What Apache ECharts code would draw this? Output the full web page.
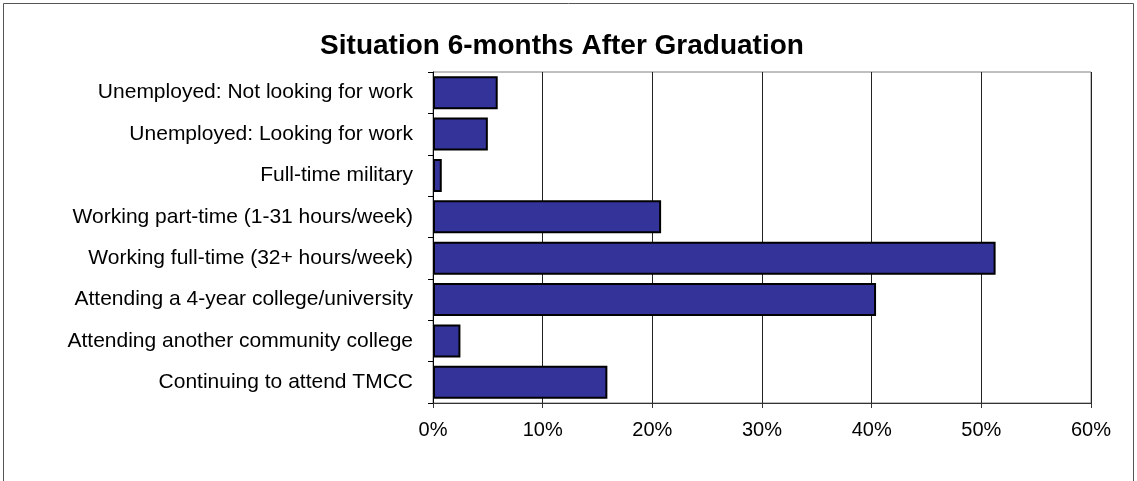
<!DOCTYPE html>
<html>
<head>
<meta charset="utf-8">
<script src="https://cdn.jsdelivr.net/npm/echarts@6/dist/echarts.min.js"></script>
<style>
  html, body { margin: 0; padding: 0; background: #fff; }
  #chart { width: 1137px; height: 481px; }
</style>
</head>
<body>
<div id="chart"></div>
<script>
// categories listed bottom -> top (category axis starts at bottom)
const categories = [
  'Continuing to attend TMCC',
  'Attending another community college',
  'Attending a 4-year college/university',
  'Working full-time (32+ hours/week)',
  'Working part-time (1-31 hours/week)',
  'Full-time military',
  'Unemployed: Looking for work',
  'Unemployed: Not looking for work'
];
const percents = [15.9, 2.5, 40.4, 51.3, 20.8, 0.8, 5.0, 5.9];
const xTicks = [0, 10, 20, 30, 40, 50, 60];

const chart = echarts.init(document.getElementById('chart'));
chart.setOption({
  animation: false,
  textStyle: { fontFamily: 'Liberation Sans, Arial, sans-serif' },
  title: {
    text: 'Situation 6-months After Graduation',
    left: 557,
    textAlign: 'center',
    top: 27,
    textStyle: { fontSize: 28, fontWeight: 'bold', color: '#000' }
  },
  graphic: [{
    type: 'rect',
    shape: { x: 3.5, y: 3.5, width: 1130, height: 520 },
    style: { fill: 'none', stroke: '#555', lineWidth: 1 },
    silent: true
  }],
  grid: {
    left: 433, right: 46, top: 72, bottom: 78,
    show: true, borderColor: '#808080', borderWidth: 1
  },
  xAxis: {
    type: 'value',
    min: xTicks[0],
    max: xTicks[xTicks.length - 1],
    interval: 10,
    axisLine: { show: true, lineStyle: { color: '#333', width: 1 } },
    axisTick: { show: true, length: 5, lineStyle: { color: '#333' } },
    axisLabel: { formatter: '{value}%', fontSize: 20, color: '#000', margin: 17 },
    splitLine: { show: true, lineStyle: { color: '#222', width: 1 } }
  },
  yAxis: {
    type: 'category',
    data: categories,
    axisLine: { show: true, lineStyle: { color: '#000', width: 1 } },
    axisTick: { show: true, length: 5, lineStyle: { color: '#000' } },
    axisLabel: { fontSize: 21, color: '#000', margin: 20 },
    splitLine: { show: false }
  },
  series: [{
    type: 'bar',
    data: percents,
    barCategoryGap: '20%',
    itemStyle: { color: '#333399', borderColor: '#000', borderWidth: 2 }
  }]
});
</script>
</body>
</html>
